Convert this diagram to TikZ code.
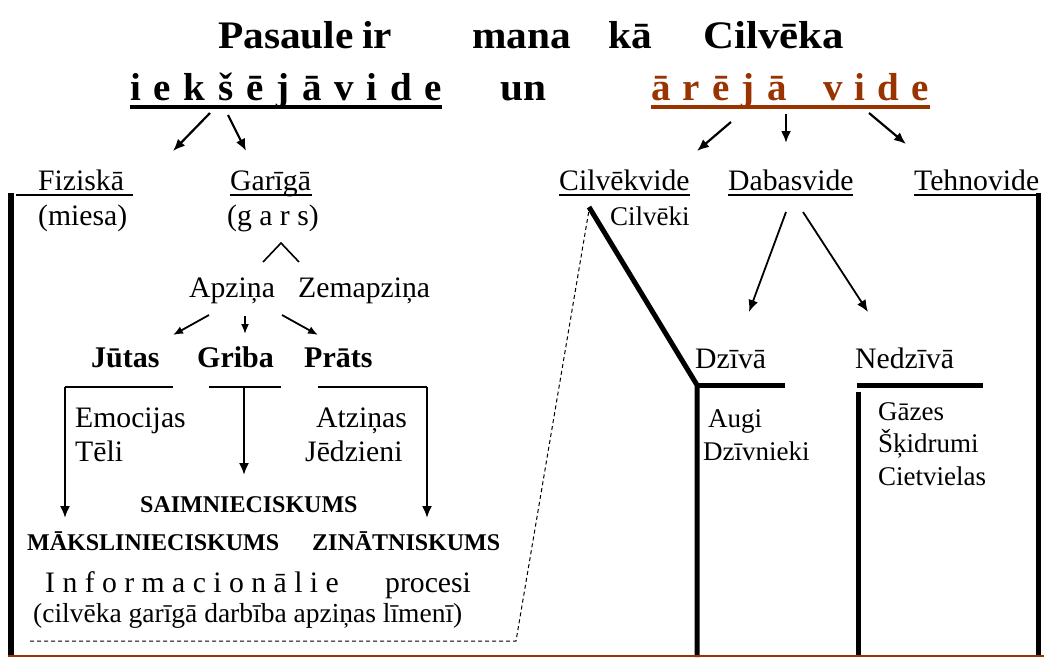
\documentclass[tikz,border=0pt]{standalone}
\usepackage{fontspec}
\setmainfont{Liberation Serif}
\usetikzlibrary{arrows.meta}
\definecolor{brn}{RGB}{153,51,0}
\begin{document}
\begin{tikzpicture}[x=1pt,y=-1pt,
  txt/.style={inner sep=0pt, anchor=base west, font=\fontsize{29.7}{32}\selectfont},
  sml/.style={inner sep=0pt, anchor=base west, font=\fontsize{27}{30}\selectfont},
  bld/.style={inner sep=0pt, anchor=base west, font=\fontsize{30}{32}\selectfont\bfseries},
  caps/.style={inner sep=0pt, anchor=base west, font=\fontsize{24}{26}\selectfont\bfseries},
  ttl/.style={inner sep=0pt, anchor=base west, font=\fontsize{39}{42}\selectfont\bfseries},
  arr/.style={line width=2.2pt, -{Latex[length=12pt,width=10pt]}},
  sarr/.style={line width=1.8pt, -{Latex[length=10pt,width=8pt]}},
  uline/.style={line width=2pt},
  bar/.style={line width=5pt},
]
\useasboundingbox (0,0) rectangle (1044,657);
% title
\node[ttl] (w1) at (218,48) {\scalebox{1.06}[1]{Pasaule}};
\node[ttl] (w2) at (362,48) {\scalebox{1.06}[1]{ir}};
\node[ttl] (w3) at (472,48) {\scalebox{1.06}[1]{mana}};
\node[ttl] (w4) at (608,48) {\scalebox{1.06}[1]{kā}};
\node[ttl] (w5) at (703,48) {\scalebox{1.1}[1]{Cilvēka}};
\node[ttl] (iek) at (130,100) {\makebox[312pt][s]{i\hfill e\hfill k\hfill š\hfill ē\hfill j\hfill ā\hfill v\hfill i\hfill d\hfill e}};
\node[ttl] (un) at (500,100) {\scalebox{1.06}[1]{un}};
\node[ttl, text=brn] (are) at (651,100) {\makebox[278pt][s]{ā\hfill r\hfill ē\hfill j\hfill ā\hfill\hfill\hfill v\hfill i\hfill d\hfill e}};
\draw[line width=4pt] (130,107) -- (442,107);
\draw[line width=4pt, brn] (651,107) -- (930,107);
% arrows from title
\coordinate (a1s) at (210,113); \coordinate (a1e) at (173,151);
\coordinate (a2s) at (228,115); \coordinate (a2e) at (246,151);
\coordinate (b1s) at (731,122); \coordinate (b1e) at (697,151);
\coordinate (b2s) at (786,114); \coordinate (b2e) at (786,143);
\coordinate (b3s) at (869,113); \coordinate (b3e) at (906,144);
\draw[arr] (a1s) -- (a1e);
\draw[arr] (a2s) -- (a2e);
\draw[arr] (b1s) -- (b1e);
\draw[arr] (b2s) -- (b2e);
\draw[arr] (b3s) -- (b3e);
% level 2
\node[txt] (fiz) at (38,190) {Fiziskā};
\node[txt] (gar) at (230,190) {Garīgā};
\node[txt] (cv) at (559,190) {Cilvēkvide};
\node[txt] (dv) at (728,190) {Dabasvide};
\node[txt] (tv) at (914,190) {Tehnovide};
\draw[uline] (16,195) -- (133,195);
\draw[uline] (230,195) -- (312,195);
\draw[uline] (559,195) -- (690,195);
\draw[uline] (728,195) -- (853,195);
\draw[uline] (914,195) -- (1040,195);
\node[txt] (mie) at (38,225) {(miesa)};
\node[txt] (gars) at (227,225) {(g a r s)};
\node[sml] (cvk) at (610,225) {Cilvēki};
% caret
\coordinate (c1) at (263,262); \coordinate (c2) at (281,243); \coordinate (c3) at (299,262);
\draw[line width=1.6pt] (c1) -- (c2) -- (c3);
\node[txt] (apz) at (189,297) {Apziņa};
\node[txt] (zem) at (298,297) {Zemapziņa};
\coordinate (d1s) at (209,315); \coordinate (d1e) at (173,335);
\coordinate (d2s) at (245,316); \coordinate (d2e) at (245,334);
\coordinate (d3s) at (282,315); \coordinate (d3e) at (318,335);
\draw[sarr] (d1s) -- (d1e);
\draw[sarr] (d2s) -- (d2e);
\draw[sarr] (d3s) -- (d3e);
\node[bld] (jut) at (91,367) {Jūtas};
\node[bld] (gri) at (197,367) {Griba};
\node[bld] (pra) at (304,367) {Prāts};
\coordinate (h1a) at (65,387); \coordinate (h1b) at (173,387);
\coordinate (h2a) at (209,387); \coordinate (h2b) at (281,387); \coordinate (h2m) at (244,387);
\coordinate (h3a) at (318,387); \coordinate (h3b) at (427,387);
\draw[uline] (h1a) -- (h1b);
\draw[uline] (h2a) -- (h2b);
\draw[uline] (h3a) -- (h3b);
\coordinate (v1e) at (65,518); \coordinate (v2e) at (244,475); \coordinate (v3e) at (427,518);
\draw[arr, line width=2pt] (h1a) -- (v1e);
\draw[arr, line width=2pt] (h2m) -- (v2e);
\draw[arr, line width=2pt] (h3b) -- (v3e);
\node[txt] (emo) at (75,427) {Emocijas};
\node[txt] (tel) at (75,461) {Tēli};
\node[txt] (atz) at (316,427) {Atziņas};
\node[txt] (jed) at (305,461) {Jēdzieni};
\node[caps] (sai) at (140,512) {SAIMNIECISKUMS};
\node[caps] (mak) at (27,550) {MĀKSLINIECISKUMS};
\node[caps] (zin) at (312,550) {ZINĀTNISKUMS};
\node[txt] (inf) at (45,592) {I n f o r m a c i o n ā l i e};
\node[txt] (pro) at (385,592) {procesi};
\node[txt, font=\fontsize{27.5}{30}\selectfont] (cil) at (33,622) {(cilvēka garīgā darbība apziņas līmenī)};
% dashed
\coordinate (q1) at (30,641); \coordinate (q2) at (516,641); \coordinate (q3) at (589,210);
\draw[line width=1pt, dash pattern=on 4pt off 3pt] (q1) -- (q2) -- (q3);
% right side
\coordinate (p1) at (589,207); \coordinate (p2) at (697,385); \coordinate (p3) at (697,657);
\draw[bar] (p1) -- (p2) -- (p3);
\draw[bar] (p2) -- (785,385);
\coordinate (e1s) at (786,212); \coordinate (e1e) at (749,312);
\coordinate (e2s) at (803,212); \coordinate (e2e) at (868,312);
\draw[arr, line width=1.8pt] (e1s) -- (e1e);
\draw[arr, line width=1.8pt] (e2s) -- (e2e);
\node[txt] (dzi) at (695,368) {Dzīvā};
\node[txt] (ned) at (855,368) {Nedzīvā};
\draw[bar] (857,385) -- (983,385);
\draw[bar] (858,392) -- (858,657);
\node[sml] (aug) at (708,427) {Augi};
\node[sml] (dzv) at (703,460) {Dzīvnieki};
\node[sml] (gaz) at (878,420) {Gāzes};
\node[sml] (sk) at (878,452) {Šķidrumi};
\node[sml] (cie) at (878,485) {Cietvielas};
\draw[bar] (1038,193) -- (1038,657);
\draw[line width=6pt] (11,193) -- (11,657);
\draw[line width=2pt, brn] (8,656) -- (1044,656);
\end{tikzpicture}
\end{document}
